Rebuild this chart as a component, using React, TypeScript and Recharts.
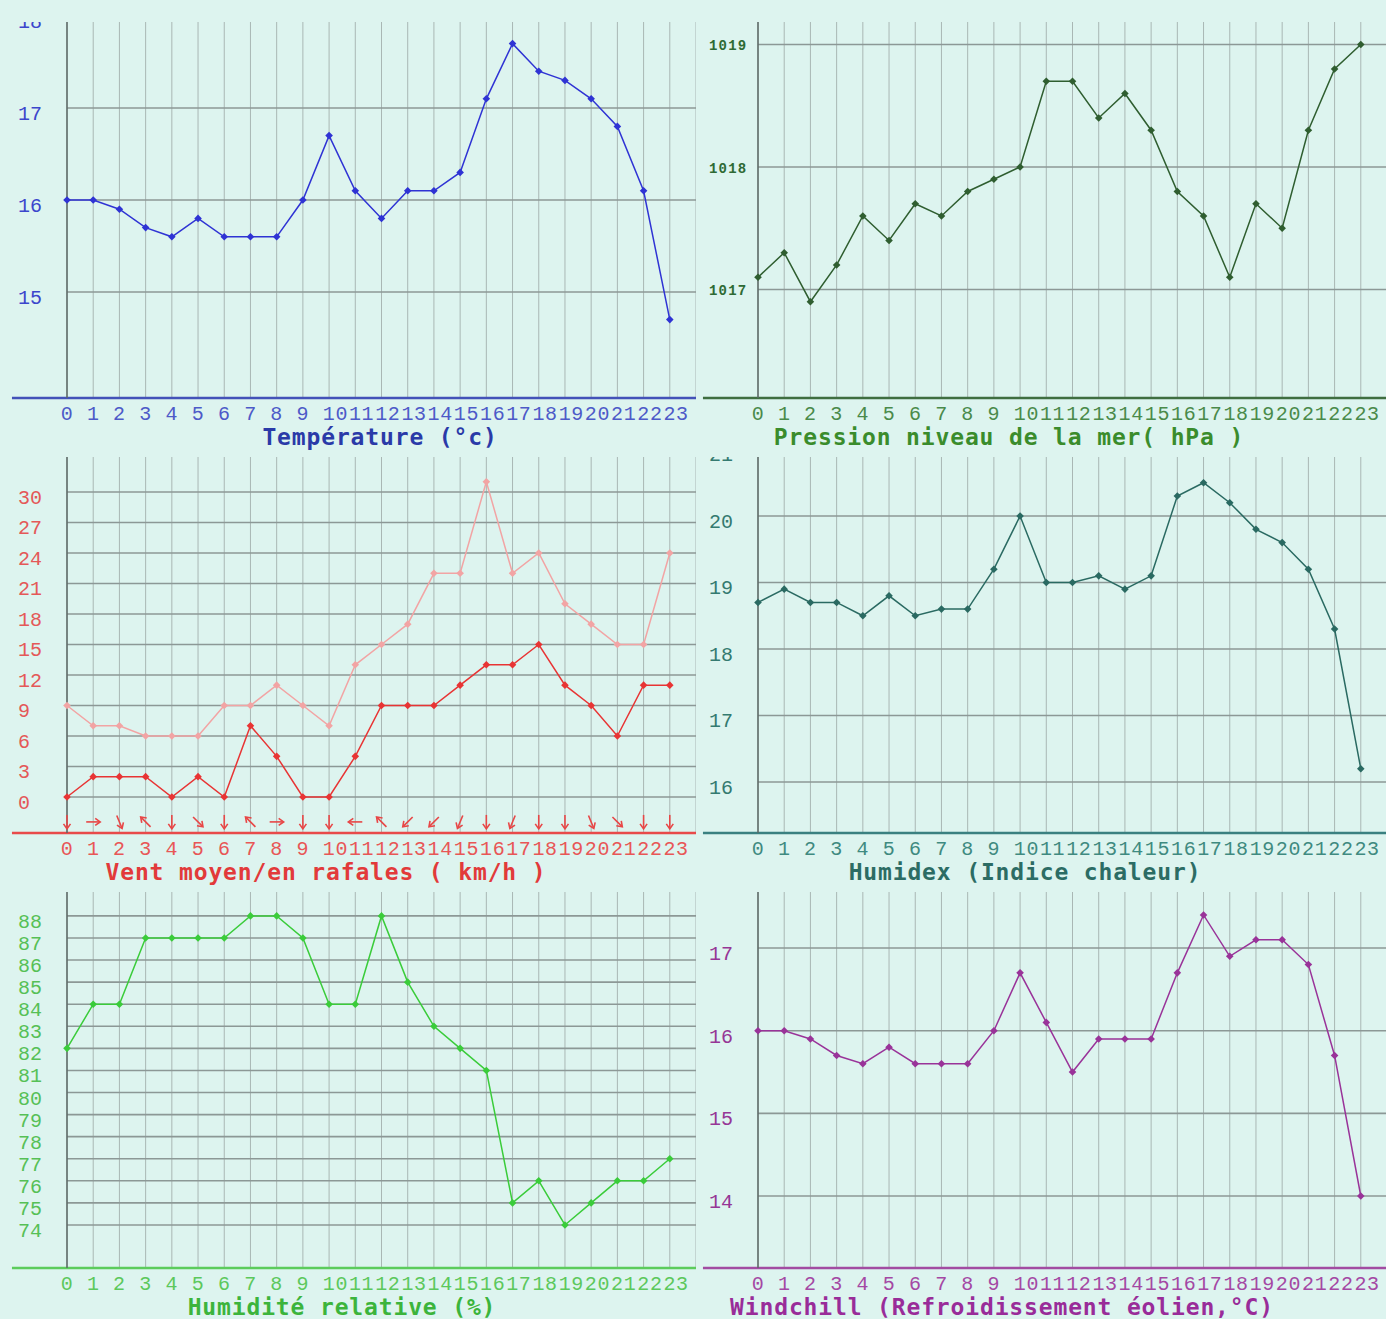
import { LineChart, Line, XAxis, YAxis, CartesianGrid, ReferenceLine } from 'recharts';

// hours of the day
const HOURS = [0, 1, 2, 3, 4, 5, 6, 7, 8, 9, 10, 11, 12, 13, 14, 15, 16, 17, 18, 19, 20, 21, 22, 23];

const TEMPERATURE = [16.0, 16.0, 15.9, 15.7, 15.6, 15.8, 15.6, 15.6, 15.6, 16.0, 16.7, 16.1, 15.8, 16.1, 16.1, 16.3, 17.1, 17.7, 17.4, 17.3, 17.1, 16.8, 16.1, 14.7];
const PRESSURE = [1017.1, 1017.3, 1016.9, 1017.2, 1017.6, 1017.4, 1017.7, 1017.6, 1017.8, 1017.9, 1018.0, 1018.7, 1018.7, 1018.4, 1018.6, 1018.3, 1017.8, 1017.6, 1017.1, 1017.7, 1017.5, 1018.3, 1018.8, 1019.0];
const WIND_MEAN = [0, 2, 2, 2, 0, 2, 0, 7, 4, 0, 0, 4, 9, 9, 9, 11, 13, 13, 15, 11, 9, 6, 11, 11];
const WIND_GUST = [9, 7, 7, 6, 6, 6, 9, 9, 11, 9, 7, 13, 15, 17, 22, 22, 31, 22, 24, 19, 17, 15, 15, 24];
// direction the wind comes from, degrees (0 = north)
const WIND_DIR = [0, 270, 337.5, 135, 0, 315, 0, 135, 270, 0, 0, 90, 135, 45, 45, 22.5, 0, 22.5, 0, 0, 337.5, 315, 0, 0];
const HUMIDEX = [18.7, 18.9, 18.7, 18.7, 18.5, 18.8, 18.5, 18.6, 18.6, 19.2, 20.0, 19.0, 19.0, 19.1, 18.9, 19.1, 20.3, 20.5, 20.2, 19.8, 19.6, 19.2, 18.3, 16.2];
const HUMIDITY = [82, 84, 84, 87, 87, 87, 87, 88, 88, 87, 84, 84, 88, 85, 83, 82, 81, 75, 76, 74, 75, 76, 76, 77];
const WINDCHILL = [16.0, 16.0, 15.9, 15.7, 15.6, 15.8, 15.6, 15.6, 15.6, 16.0, 16.7, 16.1, 15.5, 15.9, 15.9, 15.9, 16.7, 17.4, 16.9, 17.1, 17.1, 16.8, 15.7, 14.0];

const TEMP_TICKS = [15, 16, 17, 18];
const PRESSURE_TICKS = [1017, 1018, 1019];
const WIND_TICKS = [0, 3, 6, 9, 12, 15, 18, 21, 24, 27, 30];
const HUMIDEX_TICKS = [16, 17, 18, 19, 20, 21];
const HUMIDITY_TICKS = [74, 75, 76, 77, 78, 79, 80, 81, 82, 83, 84, 85, 86, 87, 88];
const WINDCHILL_TICKS = [14, 15, 16, 17];

const BG = '#ddf4ef';
const PANEL_W = 696;
const PANEL_H = 440;
const CLIP_TOP = 22;
const ARROW_LEVEL = -2.45;
const MONO = "'Liberation Mono', 'DejaVu Sans Mono', monospace";
const TITLE_FONT = "'DejaVu Sans Mono', monospace";

const XTick = ({ x, y, payload, color }: any) => (
  <text x={x - 6.3} y={y + 22} fill={color} fontSize={20} letterSpacing={0.6} fontFamily={MONO} textAnchor="start">
    {payload.value}
  </text>
);

const YTick = ({ y, payload, color, small }: any) => (
  <text
    x={18}
    y={small ? y + 6 : y + 12}
    fill={color}
    fontSize={small ? 14 : 20}
    fontWeight={small ? 'bold' : 'normal'}
    fontFamily={MONO}
    letterSpacing={small ? 1.2 : 0}
    textAnchor="start"
  >
    {payload.value}
  </text>
);

const diamond = (color: string, name: string) => (p: any) => {
  const { cx, cy, index } = p;
  if (cx == null || cy == null) return <g key={`${name}-${index}`} />;
  const r = 3.8;
  return (
    <polygon
      key={`${name}-${index}`}
      points={`${cx},${cy - r} ${cx + r},${cy} ${cx},${cy + r} ${cx - r},${cy}`}
      fill={color}
    />
  );
};

const windArrow = (p: any) => {
  const { cx, cy, payload, index } = p;
  if (cx == null || cy == null) return <g key={`arrow-${index}`} />;
  return (
    <g
      key={`arrow-${index}`}
      transform={`translate(${cx},${cy}) rotate(${payload.dir})`}
      stroke="#e84646"
      strokeWidth={1.6}
      fill="none"
    >
      <line x1={0} y1={-7} x2={0} y2={6} />
      <polyline points="-3.5,2 0,7 3.5,2" />
    </g>
  );
};

interface Series {
  key: string;
  color: string;
}

interface PanelProps {
  left: number;
  top: number;
  data: any[];
  series: Series[];
  yDomain: [number, number];
  yTicks: number[];
  smallY?: boolean;
  axisColor: string;
  tickColor: string;
  yTickColor: string;
  title: string;
  titleColor: string;
  titleX: number;
  arrows?: boolean;
}

const Panel = ({ left, top, data, series, yDomain, yTicks, smallY, axisColor, tickColor, yTickColor, title, titleColor, titleX, arrows }: PanelProps) => (
  <div style={{ position: 'absolute', left, top, width: PANEL_W, height: PANEL_H }}>
    <div style={{ position: 'absolute', left: 0, top: 0, clipPath: `inset(${CLIP_TOP}px 0 0 0)` }}>
      <LineChart width={PANEL_W} height={PANEL_H} data={data} margin={{ top: 0, right: 0, left: 0, bottom: 0 }}>
        <CartesianGrid horizontal={false} stroke="#a9b7b4" strokeWidth={1} />
        <CartesianGrid vertical={false} stroke="#8c9896" strokeWidth={1.6} />
        <XAxis
          dataKey="hour"
          type="number"
          domain={[0, 24]}
          ticks={HOURS}
          interval={0}
          height={42}
          tickLine={false}
          tickSize={0}
          tickMargin={0}
          axisLine={{ stroke: axisColor, strokeWidth: 2.5 }}
          tick={<XTick color={tickColor} />}
        />
        <YAxis
          type="number"
          domain={yDomain}
          ticks={yTicks}
          interval={0}
          width={67}
          tickLine={false}
          tickSize={0}
          tickMargin={0}
          axisLine={{ stroke: '#5c6866', strokeWidth: 1.5 }}
          tick={<YTick color={yTickColor} small={smallY} />}
        />
        <ReferenceLine
          segment={[{ x: -2.1, y: yDomain[0] }, { x: 0, y: yDomain[0] }]}
          stroke={axisColor}
          strokeWidth={2.5}
          ifOverflow="visible"
        />
        {series.map(s => (
          <Line
            key={s.key}
            type="linear"
            dataKey={s.key}
            stroke={s.color}
            strokeWidth={1.5}
            dot={diamond(s.color, s.key)}
            activeDot={false}
            isAnimationActive={false}
          />
        ))}
        {arrows && (
          <Line
            dataKey={() => ARROW_LEVEL}
            stroke="none"
            dot={windArrow}
            activeDot={false}
            isAnimationActive={false}
          />
        )}
      </LineChart>
    </div>
    <svg width={PANEL_W} height={PANEL_H + 20} style={{ position: 'absolute', left: 0, top: 0, pointerEvents: 'none', overflow: 'visible' }}>
      <text
        x={titleX}
        y={445}
        textAnchor="middle"
        fill={titleColor}
        fontSize={23}
        letterSpacing={0.85}
        fontWeight="bold"
        fontFamily={TITLE_FONT}
      >
        {title}
      </text>
    </svg>
  </div>
);

const temperatureData = HOURS.map((h, i) => ({ hour: h, value: TEMPERATURE[i] }));
const pressureData = HOURS.map((h, i) => ({ hour: h, value: PRESSURE[i] }));
const windData = HOURS.map((h, i) => ({ hour: h, mean: WIND_MEAN[i], gust: WIND_GUST[i], dir: WIND_DIR[i] }));
const humidexData = HOURS.map((h, i) => ({ hour: h, value: HUMIDEX[i] }));
const humidityData = HOURS.map((h, i) => ({ hour: h, value: HUMIDITY[i] }));
const windchillData = HOURS.map((h, i) => ({ hour: h, value: WINDCHILL[i] }));

export default function App() {
  return (
    <div style={{ position: 'absolute', left: 0, top: 0, width: 1386, height: 1319, background: BG, overflow: 'hidden' }}>
      <Panel
        left={0}
        top={0}
        data={temperatureData}
        series={[{ key: 'value', color: '#2f33d4' }]}
        yDomain={[13.848, 18.174]}
        yTicks={TEMP_TICKS}
        axisColor="#4352b8"
        tickColor="#4d5ac8"
        yTickColor="#3c46cc"
        title="Température (°c)"
        titleColor="#2a3aa8"
        titleX={380}
      />
      <Panel
        left={691}
        top={0}
        data={pressureData}
        series={[{ key: 'value', color: '#2f5e30' }]}
        yDomain={[1016.114, 1019.363]}
        yTicks={PRESSURE_TICKS}
        smallY
        axisColor="#3f6e40"
        tickColor="#4a8a4a"
        yTickColor="#2e6a34"
        title="Pression niveau de la mer( hPa )"
        titleColor="#3a8c2c"
        titleX={318}
      />
      <Panel
        left={0}
        top={435}
        data={windData}
        series={[{ key: 'gust', color: '#f2a4a4' }, { key: 'mean', color: '#e83434' }]}
        yDomain={[-3.54, 35.6]}
        yTicks={WIND_TICKS}
        axisColor="#e84a4a"
        tickColor="#e85656"
        yTickColor="#e45858"
        title="Vent moyen/en rafales ( km/h )"
        titleColor="#e23a3a"
        titleX={326}
        arrows
      />
      <Panel
        left={691}
        top={435}
        data={humidexData}
        series={[{ key: 'value', color: '#2a6a62' }]}
        yDomain={[15.233, 21.218]}
        yTicks={HUMIDEX_TICKS}
        axisColor="#3a8080"
        tickColor="#3f8a80"
        yTickColor="#347a70"
        title="Humidex (Indice chaleur)"
        titleColor="#2c6c64"
        titleX={334}
      />
      <Panel
        left={0}
        top={870}
        data={humidityData}
        series={[{ key: 'value', color: '#3acc3a' }]}
        yDomain={[72.05, 90.08]}
        yTicks={HUMIDITY_TICKS}
        axisColor="#5ccc5c"
        tickColor="#5cc85c"
        yTickColor="#56c056"
        title="Humidité relative (%)"
        titleColor="#3cb43c"
        titleX={342}
      />
      <Panel
        left={691}
        top={870}
        data={windchillData}
        series={[{ key: 'value', color: '#993399' }]}
        yDomain={[13.129, 17.944]}
        yTicks={WINDCHILL_TICKS}
        axisColor="#a24ca2"
        tickColor="#a448a4"
        yTickColor="#963696"
        title="Windchill (Refroidissement éolien,°C)"
        titleColor="#992c99"
        titleX={311}
      />
    </div>
  );
}
